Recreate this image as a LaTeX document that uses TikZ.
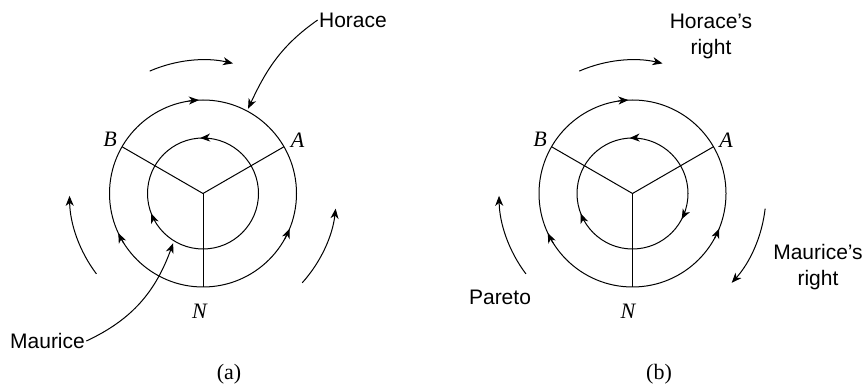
\documentclass[tikz,border=0pt]{standalone}
\usepackage{fontspec}
\setmainfont{Liberation Serif}
\setsansfont{Liberation Sans}
\usetikzlibrary{arrows.meta}

\begin{document}
\begin{tikzpicture}[x=1pt, y=1pt, line width=1pt,
  >={Stealth[length=10pt, width=8pt, inset=3pt]},
  word/.style={font=\sffamily\fontsize{21}{26}\selectfont, align=center, inner sep=1pt},
  corner/.style={font=\itshape\fontsize{22}{25}\selectfont, inner sep=0pt},
  panel/.style={font=\fontsize{22}{25}\selectfont, inner sep=0pt}
]
\useasboundingbox (0,0) rectangle (866,385);

% (a)
\coordinate (Oa) at (203,191.5);
\draw (Oa) circle (93.5);
\draw (Oa) circle (55.5);
\path (Oa) ++(30:93.5) coordinate (Aa);
\path (Oa) ++(150:93.5) coordinate (Ba);
\path (Oa) ++(270:93.5) coordinate (Na);
\draw (Oa) -- (Aa);
\draw (Oa) -- (Ba);
\draw (Oa) -- (Na);

\draw[->] (Oa) ++(99:93.5) arc[start angle=99, end angle=92.5, radius=93.5];
\draw[->] (Oa) ++(212:93.5) arc[start angle=212, end angle=205, radius=93.5];
\draw[->] (Oa) ++(331:93.5) arc[start angle=331, end angle=338, radius=93.5];
\draw[->] (Oa) ++(85:55.5) arc[start angle=85, end angle=93, radius=55.5];
\draw[->] (Oa) ++(209:55.5) arc[start angle=209, end angle=201, radius=55.5];

\draw[->] (Oa) ++(113.5:133.5) arc[start angle=113.5, end angle=77, radius=133.5];
\draw[->] (Oa) ++(217:133.5) arc[start angle=217, end angle=181, radius=133.5];
\draw[->] (Oa) ++(-42:133.5) arc[start angle=-42, end angle=-6.5, radius=133.5];

\node[corner] (lblBa) at (110,246) {B};
\node[corner] (lblAa) at (297.5,245) {A};
\node[corner] (lblNa) at (199.5,73.5) {N};

\node[word] (horace) at (353,365) {Horace};
\node[word] (maurice) at (47.5,44) {Maurice};
\path (Oa) ++(62:96) coordinate (ha);
\path (Oa) ++(239:58) coordinate (ma);
\draw[->] (horace.west) to[out=215, in=65] (ha);
\draw[->] (maurice.east) to[out=25, in=250] (ma);

\node[panel] (capa) at (229,11) {(a)};

% (b)
\coordinate (Ob) at (632.5,191.5);
\draw (Ob) circle (93.5);
\draw (Ob) circle (55.5);
\path (Ob) ++(30:93.5) coordinate (Ab);
\path (Ob) ++(150:93.5) coordinate (Bb);
\path (Ob) ++(270:93.5) coordinate (Nb);
\draw (Ob) -- (Ab);
\draw (Ob) -- (Bb);
\draw (Ob) -- (Nb);

\draw[->] (Ob) ++(99:93.5) arc[start angle=99, end angle=92.5, radius=93.5];
\draw[->] (Ob) ++(212:93.5) arc[start angle=212, end angle=205, radius=93.5];
\draw[->] (Ob) ++(331:93.5) arc[start angle=331, end angle=338, radius=93.5];
\draw[->] (Ob) ++(85:55.5) arc[start angle=85, end angle=93, radius=55.5];
\draw[->] (Ob) ++(209:55.5) arc[start angle=209, end angle=201, radius=55.5];
\draw[->] (Ob) ++(-19:55.5) arc[start angle=-19, end angle=-27.5, radius=55.5];

\draw[->] (Ob) ++(113.5:133.5) arc[start angle=113.5, end angle=77, radius=133.5];
\draw[->] (Ob) ++(217:133.5) arc[start angle=217, end angle=181, radius=133.5];
\draw[->] (Ob) ++(-6.5:133.5) arc[start angle=-6.5, end angle=-42, radius=133.5];

\node[corner] (lblBb) at (540,246) {B};
\node[corner] (lblAb) at (726,245) {A};
\node[corner] (lblNb) at (628,73.5) {N};

\node[word] (hright) at (711,348.5) {Horace’s\\right};
\node[word] (mright) at (818,117.5) {Maurice’s\\right};
\node[word] (pareto) at (500,88) {Pareto};

\node[panel] (capb) at (659,11) {(b)};
\end{tikzpicture}
\end{document}
